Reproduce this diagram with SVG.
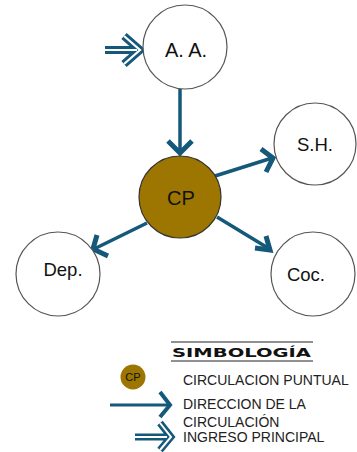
<svg xmlns="http://www.w3.org/2000/svg" width="357" height="452" viewBox="0 0 357 452">
<style>
.node{fill:#fff;stroke:#555;stroke-width:1.2}
.cp{fill:#9c7600;stroke:#333;stroke-width:1.2}
.lbl{font-family:"Liberation Sans",Arial,sans-serif;fill:#111;text-anchor:middle}
.conn{stroke:#14587a;stroke-width:3.5;fill:none}
.head{stroke:#14587a;stroke-width:5;fill:none;stroke-linejoin:miter;stroke-linecap:butt}
.leg{font-family:"Liberation Sans",Arial,sans-serif;font-size:14px;fill:#222}
</style>
<rect width="357" height="452" fill="#fff"/>
<g id="connectors">
<line class="conn" x1="180" y1="89" x2="180" y2="152"/>
<polyline class="head" points="168,141 180,153 192,141"/>
<line class="conn" x1="215" y1="176" x2="272" y2="158"/>
<polyline class="head" points="261,149 273,158 266,172"/>
<line class="conn" x1="217" y1="217" x2="268" y2="248"/>
<polyline class="head" points="266,236 270,250 255,248"/>
<line class="conn" x1="147" y1="223" x2="94" y2="249"/>
<polyline class="head" points="97,235 93,249 108,256"/>
<g id="ingreso">
<path d="M105,50 H138 M124,36 L140,50 L124,64" stroke="#14587a" stroke-width="8" fill="none"/>
<path d="M105,50 H137 M124,36 L140,50 L124,64" stroke="#fff" stroke-width="2.2" fill="none"/>
</g>
</g>
<g id="aa"><circle class="node" cx="185" cy="47" r="42"/><text class="lbl" x="186" y="57" font-size="20">A. A.</text></g>
<g id="cp"><circle class="cp" cx="180" cy="197" r="41"/><text class="lbl" x="181" y="205" font-size="20">CP</text></g>
<g id="sh"><circle class="node" cx="315" cy="144" r="41"/><text class="lbl" x="315" y="151" font-size="18.5">S.H.</text></g>
<g id="dep"><circle class="node" cx="58" cy="274" r="42"/><text class="lbl" x="63" y="276" font-size="18.5">Dep.</text></g>
<g id="coc"><circle class="node" cx="313" cy="274" r="42"/><text class="lbl" x="306" y="281" font-size="18.5">Coc.</text></g>
<g id="legend">
<line x1="171" y1="342" x2="313" y2="342" stroke="#222" stroke-width="1"/>
<line x1="171" y1="361" x2="313" y2="361" stroke="#222" stroke-width="1"/>
<text x="172" y="357" font-family="'DejaVu Sans',sans-serif" font-weight="bold" font-size="13" textLength="139" lengthAdjust="spacingAndGlyphs" fill="#111">SIMBOLOGÍA</text>
<circle cx="133" cy="377" r="12.5" fill="#9c7600"/>
<text x="133" y="381" font-family="'Liberation Sans',sans-serif" font-size="11" text-anchor="middle" fill="#111">CP</text>
<text class="leg" x="183" y="385">CIRCULACION PUNTUAL</text>
<line x1="110" y1="405" x2="168" y2="405" stroke="#14587a" stroke-width="3"/>
<polyline points="160,392 170,405 160,417" stroke="#14587a" stroke-width="4" fill="none"/>
<text class="leg" x="183" y="409">DIRECCION DE LA</text>
<text class="leg" x="183" y="427">CIRCULACIÓN</text>
<path d="M135,437 H168 M160,423 L171,437 L160,450" stroke="#14587a" stroke-width="7" fill="none"/>
<path d="M135,437 H167 M160,423 L171,437 L160,450" stroke="#fff" stroke-width="2" fill="none"/>
<text class="leg" x="183" y="442">INGRESO PRINCIPAL</text>
</g>
</svg>
